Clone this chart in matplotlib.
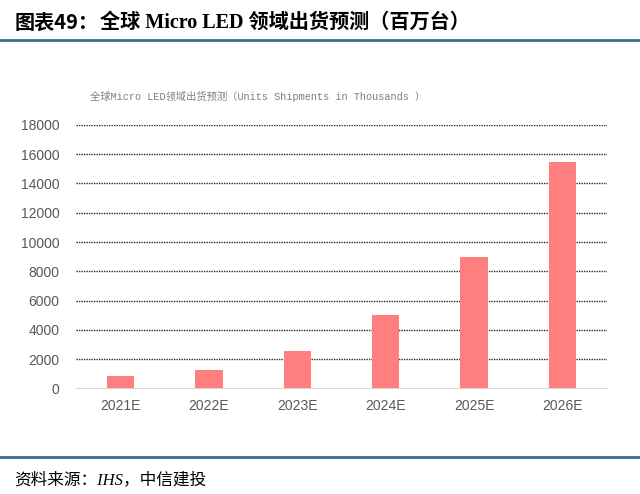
#!/usr/bin/env python3
import numpy as np
import matplotlib
matplotlib.use("Agg")
import matplotlib.pyplot as plt

years = ['2021E', '2022E', '2023E', '2024E', '2025E', '2026E']
shipments = [850, 1250, 2570, 5000, 9000, 15500]
y_ticks = list(range(0, 18001, 2000))

plt.rcParams['font.family'] = ['Liberation Sans', 'Noto Sans CJK SC']

fig = plt.figure(figsize=(6.4, 4.94), dpi=100)

# header
fig.text(0.022, 0.955, '图表49：', fontsize=14.5, fontweight='bold',
         family=['Noto Sans CJK SC'], va='center', ha='left')
fig.text(0.156, 0.955, '全球 Micro LED 领域出货预测（百万台）', fontsize=14.5,
         fontweight='bold', family=['Liberation Serif', 'Noto Sans CJK SC'],
         va='center', ha='left')
fig.add_artist(plt.Line2D([0, 1], [0.919, 0.919], color='#3E6C8C', lw=2))

# footer
fig.add_artist(plt.Line2D([0, 1], [0.075, 0.075], color='#3E6C8C', lw=2))
fig.text(0.022, 0.028, '资料来源：IHS，中信建投', fontsize=12, style='italic',
         family=['Liberation Serif', 'Noto Sans CJK SC'], va='center', ha='left')

# chart title
fig.text(0.403, 0.804, '全球Micro LED领域出货预测（Units Shipments in Thousands ）',
         fontsize=7.4, color='#7F7F7F', family=['Liberation Mono', 'Noto Sans CJK SC'],
         va='center', ha='center')

ax = fig.add_axes([0.119, 0.214, 0.829, 0.533])
x = np.arange(len(years))
ax.bar(x, shipments, width=0.31, color='#FF7F7F', zorder=3)

ax.set_xlim(-0.5, len(years) - 0.5)
ax.set_ylim(0, 18000)
ax.set_yticks(y_ticks)
ax.set_xticks(x)
ax.set_xticklabels(years)
ax.tick_params(axis='both', length=0, labelsize=10, colors='#595959')
ax.tick_params(axis='y', pad=12)
ax.tick_params(axis='x', pad=8)

for t in y_ticks[1:]:
    ax.axhline(t, color='#2E2E2E', lw=1, linestyle=(0, (1, 0.8)), zorder=1)

for s in ['top', 'right', 'left']:
    ax.spines[s].set_visible(False)
ax.spines['bottom'].set_color('#D9D9D9')

fig.savefig('out.png', dpi=100)
